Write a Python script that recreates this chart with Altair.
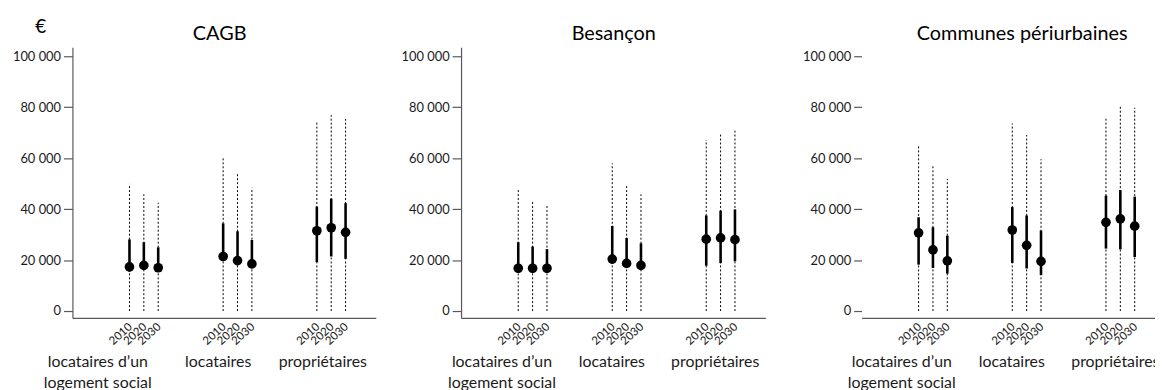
import altair as alt
import pandas as pd

territoires = ["CAGB", "Besançon", "Communes périurbaines"]
categories = ["locataires d’un logement social", "locataires", "propriétaires"]
annees = ["2010", "2020", "2030"]

# order: for each category, years 2010, 2020, 2030
mediane_cagb = [17300, 17900, 17000, 21400, 19800, 18500, 31500, 32700, 30900]
bas_cagb = [15500, 16100, 15300, 19600, 18000, 16800, 19200, 21400, 20500]
haut_cagb = [28100, 27000, 25000, 34400, 31300, 27900, 41000, 44100, 42300]
max_cagb = [49900, 45800, 42500, 60400, 53800, 48400, 74300, 76900, 75400]

mediane_bes = [16800, 16800, 16800, 20400, 18700, 17900, 28200, 28700, 28000]
bas_bes = [15000, 15000, 15000, 18600, 16900, 16100, 17800, 18800, 19500]
haut_bes = [27000, 25300, 24300, 33400, 28700, 26600, 37500, 39400, 39900]
max_bes = [47800, 43100, 41200, 58000, 49100, 45800, 67100, 69900, 70800]

mediane_peri = [30700, 24000, 19700, 31800, 25800, 19500, 34800, 36200, 33300]
bas_peri = [18200, 16900, 14700, 18900, 16700, 14100, 24500, 24200, 21200]
haut_peri = [36800, 32900, 29600, 40800, 37500, 31600, 45300, 47500, 44900]
max_peri = [64600, 57300, 51800, 73600, 69100, 59600, 76200, 80900, 79800]

y_ticks = [0, 20000, 40000, 60000, 80000, 100000]

series = {
    "CAGB": (mediane_cagb, bas_cagb, haut_cagb, max_cagb),
    "Besançon": (mediane_bes, bas_bes, haut_bes, max_bes),
    "Communes périurbaines": (mediane_peri, bas_peri, haut_peri, max_peri),
}

rows = []
for t in territoires:
    med, lo, hi, top = series[t]
    i = 0
    for c in categories:
        for a in annees:
            rows.append({"territoire": t, "categorie": c, "annee": a,
                         "med": med[i], "lo": lo[i], "hi": hi[i],
                         "top": top[i], "zero": 0})
            i += 1
df = pd.DataFrame(rows)

H = 273
FONT = "Lato"
AXC = "#595959"
TXT = "#1a1a1a"


def panel(t, W, offsets, title_x, extent, y_domain, euro):
    d = df[df.territoire == t]
    base = alt.Chart(d)
    x_axis = alt.Axis(
        title=None, ticks=False, domain=True, domainColor=AXC, domainWidth=1.2,
        labelAngle=0, labelFont=FONT, labelFontSize=16, labelColor=TXT,
        labelPadding=36, labelLineHeight=21,
        labelExpr="datum.value == 'locataires d’un logement social' ? ['locataires d’un', 'logement social'] : datum.value",
        labelOffset={"condition": [
            {"test": "datum.value == 'locataires'", "value": offsets[1]},
            {"test": "datum.value == 'propriétaires'", "value": offsets[2]}],
            "value": offsets[0]},
    )
    x = alt.X("categorie:N", sort=categories,
              scale=alt.Scale(paddingInner=0.54, paddingOuter=0.389, align=0.684),
              axis=x_axis)
    xo = alt.XOffset("annee:N", sort=annees,
                     scale=alt.Scale(paddingInner=0, paddingOuter=0))
    y_axis = alt.Axis(
        title=None, values=y_ticks, grid=False,
        labelExpr="replace(format(datum.value, ',d'), ',', ' ')",
        labelFont=FONT, labelFontSize=13, labelColor=TXT, labelPadding=3,
        tickSize=9 if y_domain else 8, tickColor=AXC, tickWidth=1.2,
        domain=y_domain, domainColor=AXC, domainWidth=1.2,
        minExtent=extent, maxExtent=extent,
    )
    yscale = alt.Scale(domain=[-2724, 103500], nice=False, zero=False)

    dotted = base.mark_rule(color="black", strokeWidth=1, strokeDash=[2, 2]).encode(
        x=x, xOffset=xo,
        y=alt.Y("zero:Q", scale=yscale, axis=y_axis), y2="top:Q")
    solid = base.mark_rule(color="black", strokeWidth=2.6).encode(
        x=x, xOffset=xo, y=alt.Y("lo:Q", scale=yscale, axis=y_axis), y2="hi:Q")
    dots = base.mark_point(filled=True, color="black", opacity=1, size=95).encode(
        x=x, xOffset=xo, y=alt.Y("med:Q", scale=yscale, axis=y_axis))
    years = base.mark_text(angle=318, align="right", baseline="middle",
                           font=FONT, fontSize=11.5, color=TXT, dx=2).encode(
        x=x, xOffset=xo, y=alt.value(H + 9), text="annee:N")
    title = alt.Chart(pd.DataFrame({"t": [t]})).mark_text(
        font=FONT, fontSize=20, color="black", align="center",
        baseline="alphabetic").encode(
        x=alt.value(title_x), y=alt.value(-7), text="t:N")
    layers = [dotted, solid, dots, years, title]
    if euro:
        e = alt.Chart(pd.DataFrame({"t": ["€"]})).mark_text(
            font=FONT, fontSize=19, color="black", align="center",
            baseline="alphabetic").encode(
            x=alt.value(-32), y=alt.value(-14), text="t:N")
        layers.append(e)
    return alt.layer(*layers).properties(width=W, height=H)


p1 = panel("CAGB", 306, [-46.5, -19.5, -8.5], 148.5, 60, True, True)
p2 = panel("Besançon", 307, [-31, -15, -5.5], 154, 60, True, False)
p3 = panel("Communes périurbaines", 306, [-31.5, -15, -5], 162, 72, False, False)

chart = alt.hconcat(p1, p2, p3, spacing=25).properties(
    padding={"left": 4, "top": 9, "right": -10, "bottom": 0}
).configure_view(stroke=None)

chart.save("out.html", embed_options={"renderer": "svg", "actions": False})
